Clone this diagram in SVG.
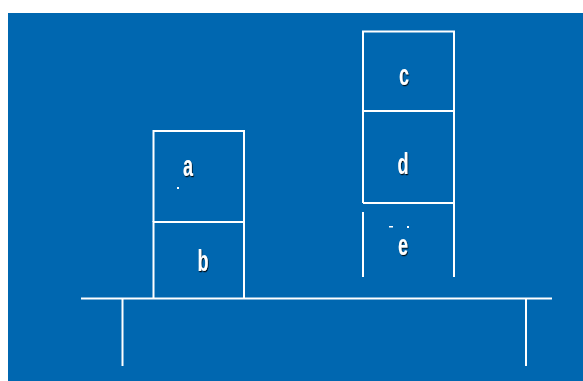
<svg xmlns="http://www.w3.org/2000/svg" width="583" height="381" viewBox="0 0 583 381">
<style>
.ln{stroke:#ffffff;stroke-width:2;fill:none;stroke-linecap:butt}
.lb{font-family:"Liberation Sans",Arial,sans-serif;font-size:30px;font-weight:bold;fill:#ffffff;text-anchor:middle}
</style>
<defs>
<filter id="sh" x="-30%" y="-30%" width="160%" height="160%">
<feDropShadow dx="1.2" dy="1.2" stdDeviation="0.3" flood-color="#000000" flood-opacity="0.9"/>
</filter>
</defs>
<rect x="0" y="0" width="583" height="381" fill="#ffffff"/>
<rect x="8" y="13" width="575" height="368" fill="#0067B0"/>
<g id="table">
<line class="ln" x1="81" y1="298.5" x2="552" y2="298.5"/>
<line class="ln" x1="122.5" y1="298" x2="122.5" y2="366"/>
<line class="ln" x1="526" y1="298" x2="526" y2="366"/>
</g>
<g id="node-a">
<path class="ln" d="M153.5,222 V131 H244 V222"/>
<text class="lb" filter="url(#sh)" transform="translate(188,176) scale(0.6,1)" font-size="32">a</text>
<rect x="177" y="187" width="2" height="2" fill="#ffffff"/>
</g>
<g id="node-b">
<path class="ln" d="M153.5,298 V222 H244 V298"/>
<text class="lb" filter="url(#sh)" transform="translate(203,271) scale(0.6,1)" font-size="35">b</text>
</g>
<g id="node-c">
<path class="ln" d="M363,111 V31.5 H454 V111"/>
<text class="lb" filter="url(#sh)" transform="translate(404,85) scale(0.6,1)">c</text>
</g>
<g id="node-d">
<path class="ln" d="M363,203 V111 H454 V203"/>
<text class="lb" filter="url(#sh)" transform="translate(403,174) scale(0.6,1)">d</text>
</g>
<g id="node-e">
<path class="ln" d="M363,203 H454 V277"/>
<line class="ln" x1="363" y1="212" x2="363" y2="277"/>
<text class="lb" filter="url(#sh)" transform="translate(403,255) scale(0.6,1)">e</text>
<rect x="389" y="226" width="4" height="1.5" fill="#ffffff"/>
<rect x="407" y="226" width="2" height="2" fill="#ffffff"/>
</g>
<g id="connectors"></g>
</svg>
